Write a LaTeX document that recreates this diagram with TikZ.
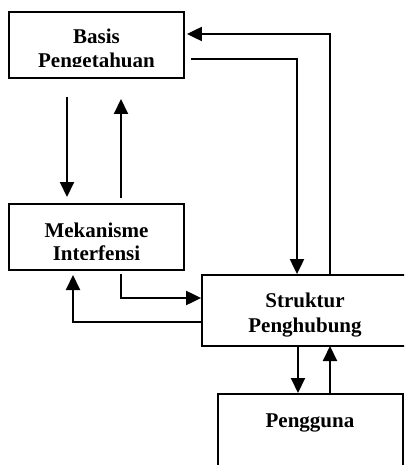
\documentclass[tikz,border=0pt]{standalone}
\usepackage{fontspec}
\setmainfont{Liberation Serif}
\usetikzlibrary{arrows.meta}
\begin{document}
\begin{tikzpicture}[x=1pt,y=-1pt,
  box/.style={draw, line width=1.8pt, inner sep=0pt},
  lbl/.style={font=\fontsize{21}{25}\selectfont\bfseries, anchor=base, inner sep=0pt},
  conn/.style={line width=2pt},
  arr/.style={conn, -{Triangle[length=15pt,width=14pt]}}]
\useasboundingbox (0,0) rectangle (404,465);
\clip (0,0) rectangle (404,465);
% boxes
\node[box, minimum width=175pt, minimum height=66pt] (basis) at (96.5,45) {};
\node[box, minimum width=175pt, minimum height=66pt] (mek) at (96.5,237) {};
\node[box, minimum width=218pt, minimum height=71pt] (strk) at (311,310.5) {};
\node[box, minimum width=185pt, minimum height=86pt] (user) at (310.5,437) {};
% labels
\begin{scope}
\clip (0,0) rectangle (404,67);
\node[lbl] (tbasis1) at (96.5,44) {Basis};
\node[lbl] (tbasis2) at (96.5,68) {Pengetahuan};
\end{scope}
\begin{scope}
\clip (0,190) rectangle (404,259);
\node[lbl] (tmek1) at (96.5,237) {Mekanisme};
\node[lbl] (tmek2) at (96.5,260) {Interfensi};
\end{scope}
\node[lbl] (tstr1) at (305,307) {Struktur};
\node[lbl] (tstr2) at (305,332) {Penghubung};
\node[lbl] (tuser) at (310,427) {Pengguna};
% connectors
\coordinate (a1) at (330,34);
\draw[arr] (strk.north -| a1) -- (a1) -- ([xshift=2pt]basis.east |- a1);
\coordinate (b1) at (191,59);
\coordinate (b2) at (297,59);
\draw[arr] (b1) -- (b2) -- (b2 |- strk.north);
\coordinate (c1) at (67,97);
\coordinate (c2) at (67,197);
\draw[arr] (c1) -- (c2);
\coordinate (d1) at (121,198);
\coordinate (d2) at (121,99);
\draw[arr] (d1) -- (d2);
\coordinate (e1) at (121,274);
\coordinate (e2) at (121,298);
\draw[arr] (e1) -- (e2) -- (e2 -| strk.west);
\coordinate (f1) at (73,322);
\coordinate (f2) at (73,275);
\draw[arr] (f1 -| strk.west) -- (f1) -- (f2);
\coordinate (g1) at (298,346);
\coordinate (g2) at (298,393);
\draw[arr] (g1) -- (g2);
\coordinate (h1) at (330,394);
\coordinate (h2) at (330,346);
\draw[arr] (h1) -- (h2);
\end{tikzpicture}
\end{document}
